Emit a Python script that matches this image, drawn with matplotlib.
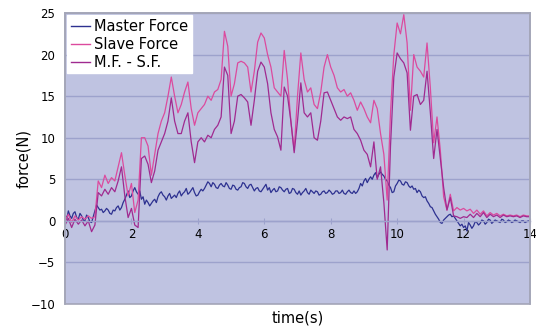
import matplotlib.pyplot as plt
import numpy as np

# master force is logged every 0.05 s, the other two every 0.1 s
time_fine = np.arange(281) * 0.05
time_s = np.arange(141) * 0.1

master_force = [
    0.8, 0.2, 1.2, 0.6, 0.3, 0.9, 1.1, 0.4, 0.2, 0.9, 0.6, 0.1, 0.0, 0.7, 0.4, -0.1, -0.2, 0.5, 1.2, 1.9,
    1.6, 1.3, 1.4, 1.0, 1.2, 1.5, 1.3, 0.9, 0.8, 1.3, 1.2, 1.6, 1.8, 1.3, 1.6, 2.2, 2.6, 3.1, 3.6, 2.8,
    3.0, 3.6, 4.0, 3.5, 3.2, 3.6, 2.6, 2.9, 2.0, 2.5, 2.2, 1.8, 2.1, 2.4, 2.6, 2.2, 2.9, 3.3, 3.5, 3.1,
    2.9, 2.5, 3.0, 3.3, 2.7, 2.9, 3.1, 2.8, 3.3, 3.6, 3.0, 3.3, 3.5, 3.9, 3.2, 3.4, 3.7, 4.0, 3.4, 3.0,
    3.1, 3.5, 3.8, 3.6, 3.9, 4.3, 4.7, 4.5, 4.1, 4.6, 4.4, 4.0, 3.9, 4.3, 4.5, 4.2, 4.1, 4.6, 4.3, 3.9,
    3.8, 4.3, 4.2, 3.8, 3.7, 4.0, 4.1, 4.6, 4.5, 4.1, 3.9, 4.3, 4.4, 4.0, 3.6, 3.9, 4.0, 3.6, 3.5, 3.8,
    4.1, 4.4, 3.7, 4.0, 3.4, 3.7, 3.9, 3.5, 3.6, 4.1, 4.0, 3.7, 3.5, 3.8, 3.9, 3.3, 3.4, 3.9, 3.8, 3.4,
    3.2, 3.6, 3.1, 3.4, 3.6, 3.9, 3.4, 3.2, 3.7, 3.5, 3.3, 3.6, 3.5, 3.1, 3.2, 3.5, 3.6, 3.3, 3.4, 3.7,
    3.5, 3.2, 3.3, 3.6, 3.6, 3.3, 3.4, 3.7, 3.3, 3.2, 3.5, 3.7, 3.4, 3.3, 3.6, 3.3, 3.5, 3.9, 4.5, 4.2,
    4.8, 5.1, 4.6, 5.0, 5.3, 5.0, 5.5, 5.8, 5.2, 5.6, 5.9, 5.6, 5.4, 5.0, 4.8, 4.3, 4.0, 3.4, 3.5, 4.2,
    4.5, 4.9, 4.8, 4.4, 4.3, 4.7, 4.6, 4.2, 4.0, 4.2, 3.8, 3.9, 3.4, 3.7, 3.5, 3.0, 2.8, 2.9, 2.4, 2.1,
    1.7, 1.6, 1.2, 0.8, 0.5, 0.2, -0.2, -0.3, 0.1, 0.3, 0.5, 0.7, 0.8, 0.5, 0.6, 0.3, 0.0, -0.3, -0.6, -0.4,
    -0.8, -0.6, -1.2, -0.2, -0.5, -0.9, -0.6, -0.1, -0.2, -0.5, -0.3, 0.1, 0.0, -0.4, -0.2, 0.2, 0.1, -0.3, -0.1, 0.1,
    0.0, -0.1, -0.2, 0.2, 0.1, -0.2, -0.1, 0.1, 0.0, -0.2, -0.1, 0.1, 0.0, -0.1, -0.2, 0.0, 0.0, -0.2, -0.1, 0.0,
    -0.1,
]

slave_force = [
    0.0, 0.8, -0.2, 0.6, 0.1, 0.5, 0.2, 0.6, 0.3, 0.5,
    4.8, 4.0, 5.5, 4.5, 5.2, 4.8, 6.5, 8.2, 5.5, 3.0,
    4.5, 1.0, 2.5, 10.0, 10.0, 9.0, 5.5, 8.0, 10.5, 12.0,
    13.0, 15.0, 17.3, 15.0, 13.0, 14.0, 15.5, 16.7, 13.5, 11.5,
    13.0, 13.5, 14.0, 15.0, 14.5, 15.5, 15.8, 17.0, 22.8, 21.0,
    15.0, 16.5, 19.0, 19.2, 19.0, 18.5, 15.5, 18.0, 21.5, 22.6,
    22.0, 20.0, 18.5, 16.0, 15.5, 15.0, 20.5, 17.0, 12.0, 8.5,
    15.0, 20.2, 17.0, 15.5, 16.0, 14.0, 13.5, 15.5, 18.5, 20.0,
    18.5, 17.5, 16.0, 15.5, 15.8, 15.0, 15.4, 14.5, 13.3, 14.3,
    13.5, 12.5, 11.8, 14.5, 13.5, 10.5, 8.0, 2.5, 13.0, 20.0,
    23.8, 22.5, 24.8, 21.4, 13.3, 20.0, 18.5, 18.0, 17.3, 21.4,
    16.0, 9.4, 12.5, 8.5, 2.9, 1.3, 3.2, 1.2, 1.6, 1.3,
    1.5, 1.2, 1.4, 0.9, 1.3, 0.8, 1.2, 0.6, 1.0, 0.7,
    0.9, 0.6, 0.8, 0.6, 0.7, 0.6, 0.7, 0.5, 0.7, 0.6,
    0.6,
]

mf_minus_sf = [
    -0.5, 0.3, -0.8, 0.2, -0.4, 0.1, -0.6, 0.0, -1.3, -0.5,
    3.4, 3.0, 3.8, 3.2, 4.0, 3.5, 4.8, 6.5, 3.0, 0.4,
    1.5, -0.5, -0.8, 7.5, 7.8, 6.8, 4.6, 6.0, 8.5, 9.5,
    10.5, 12.0, 14.8, 12.0, 10.5, 10.5, 12.0, 13.0, 9.5, 7.0,
    9.5, 10.0, 9.5, 10.3, 10.0, 11.0, 11.5, 12.5, 18.5, 17.5,
    10.5, 12.0, 15.0, 15.2, 14.8, 14.3, 11.5, 14.5, 18.0, 19.1,
    18.5, 16.5, 13.0, 11.0, 10.1, 8.5, 16.1, 15.0, 12.0, 8.2,
    12.0, 16.6, 13.0, 12.5, 13.0, 10.0, 9.7, 12.0, 15.4, 15.5,
    14.5, 13.5, 12.5, 12.1, 12.5, 12.3, 12.5, 11.0, 10.5, 9.7,
    8.5, 8.0, 6.5, 9.5, 5.0, 6.5, 2.2, -3.5, 9.0, 17.3,
    20.2, 19.5, 19.0, 17.8, 10.9, 15.0, 15.2, 14.0, 14.5, 18.0,
    13.0, 7.5, 11.0, 7.5, 4.0, 1.3, 2.8, 0.6, 0.5, 0.3,
    0.5, 0.4, 0.8, 0.4, 0.9, 0.5, 1.0, 0.4, 0.8, 0.5,
    0.7, 0.4, 0.7, 0.5, 0.6, 0.5, 0.6, 0.4, 0.6, 0.5,
    0.5,
]

y_ticks = [-10, -5, 0, 5, 10, 15, 20, 25]
x_ticks = [0, 2, 4, 6, 8, 10, 12, 14]

plt.rcParams['font.family'] = 'DejaVu Sans'

fig = plt.figure(figsize=(5.36, 3.34), dpi=100)
ax = fig.add_axes([0.1213, 0.0898, 0.8675, 0.8712])
ax.set_facecolor('#bfc3e1')

ax.plot(time_fine, master_force, color='#2d3190', lw=0.9, label='Master Force')
ax.plot(time_s, slave_force, color='#dc4a9e', lw=0.9, label='Slave Force')
ax.plot(time_s, mf_minus_sf, color='#a02a90', lw=0.9, label='M.F. - S.F.')

ax.set_xlim(0, 14)
ax.set_ylim(-10, 25)
ax.set_yticks(y_ticks)
ax.set_xticks(x_ticks)
ax.yaxis.grid(True, color='#9da2cc', lw=1.0)
ax.set_axisbelow(True)

# frame round the plot area, x axis drawn through zero
for side in ['top', 'right', 'left']:
    ax.spines[side].set_color('#a4a6b8')
    ax.spines[side].set_linewidth(1.2)
ax.spines['bottom'].set_position(('data', 0))
ax.spines['bottom'].set_color('#9da2cc')
ax.spines['bottom'].set_linewidth(1.0)
ax.add_patch(plt.Rectangle((0, 0), 1, 1, transform=ax.transAxes, fill=False,
                           edgecolor='#a4a6b8', lw=1.2, zorder=5, clip_on=False))

ax.tick_params(axis='x', direction='inout', length=4, color='#9da2cc',
               labelsize=8.5, pad=3)
ax.tick_params(axis='y', length=0, labelsize=8.5, pad=7)

ax.set_ylabel('force(N)', fontsize=10.5)
ax.yaxis.set_label_coords(-0.072, 0.5)
ax.set_xlabel('time(s)', fontsize=10.5)
ax.xaxis.set_label_coords(0.5, -0.024)

leg = ax.legend(loc='upper left', fontsize=10.5, frameon=True, fancybox=False,
                borderaxespad=0.15, handlelength=1.3, handletextpad=0.3,
                labelspacing=0.2, borderpad=0.25)
leg.get_frame().set_facecolor('white')
leg.get_frame().set_edgecolor('white')
leg.get_frame().set_alpha(1)
for line in leg.get_lines():
    line.set_linewidth(1.0)

fig.savefig('out.png', dpi=100)
